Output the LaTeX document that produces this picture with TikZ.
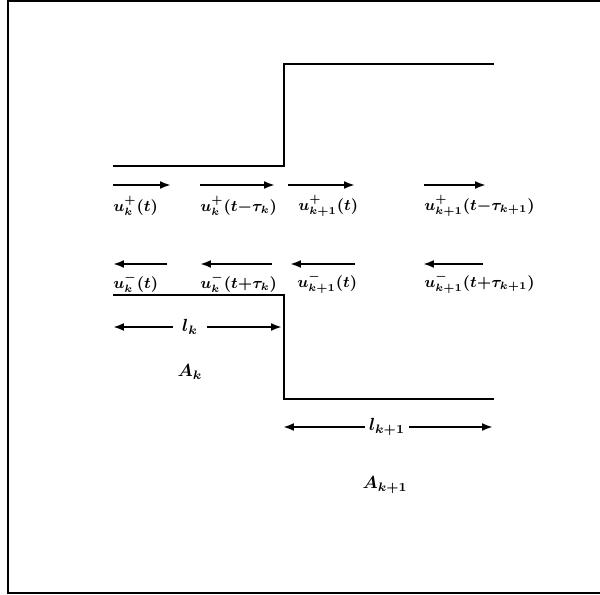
\documentclass[tikz,border=0pt]{standalone}
\usepackage{amsmath}
\usepackage{tikz}
\usetikzlibrary{arrows.meta,positioning}

\begin{document}
\begin{tikzpicture}[x=0.02cm,y=-0.02cm,
  wall/.style={line width=1.1pt},
  a/.style={-{Latex[length=2.2mm,width=1.6mm]},line width=1.1pt},
  lab/.style={anchor=west,inner sep=0pt,font=\small\boldmath}]
\useasboundingbox (0,0) rectangle (600,595);
\draw[line width=1pt] (600,1) -- (8,1) -- (8,593) -- (600,593);
% duct walls
\draw[wall] (113,166) -- (284,166) -- (284,64) -- (494,64);
\draw[wall] (113,295) -- (284,295) -- (284,399) -- (494,399);
% forward waves
\coordinate (f1s) at (113,185); \coordinate (f1e) at (171,185);
\coordinate (f2s) at (200,185); \coordinate (f2e) at (275,185);
\coordinate (f3s) at (288,185); \coordinate (f3e) at (355,185);
\coordinate (f4s) at (424,185); \coordinate (f4e) at (486,185);
\draw[a] (f1s) -- (f1e);
\draw[a] (f2s) -- (f2e);
\draw[a] (f3s) -- (f3e);
\draw[a] (f4s) -- (f4e);
\node[lab] (up1) at (113,206) {$u_k^+(t)$};
\node[lab] (up2) at (200,206) {$u_k^+(t{-}\tau_k)$};
\node[lab] (up3) at (298,206) {$u_{k+1}^+(t)$};
\node[lab] (up4) at (424,206) {$u_{k+1}^+(t{-}\tau_{k+1})$};
% backward waves
\coordinate (b1s) at (167,264); \coordinate (b1e) at (113,264);
\coordinate (b2s) at (272,264); \coordinate (b2e) at (200,264);
\coordinate (b3s) at (355,264); \coordinate (b3e) at (290,264);
\coordinate (b4s) at (483,264); \coordinate (b4e) at (423,264);
\draw[a] (b1s) -- (b1e);
\draw[a] (b2s) -- (b2e);
\draw[a] (b3s) -- (b3e);
\draw[a] (b4s) -- (b4e);
\node[lab] (um1) at (113,283) {$u_k^-(t)$};
\node[lab] (um2) at (200,283) {$u_k^-(t{+}\tau_k)$};
\node[lab] (um3) at (297,283) {$u_{k+1}^-(t)$};
\node[lab] (um4) at (424,283) {$u_{k+1}^-(t{+}\tau_{k+1})$};
% lengths and areas
\node[inner sep=0pt,font=\boldmath] (lk) at (190,327) {$l_k$};
\coordinate (lkL) at (113,327); \coordinate (lkR) at (282,327);
\draw[a] (lk.west) ++(-9,0) -- (lkL);
\draw[a] (lk.east) ++(9,0) -- (lkR);
\node[font=\boldmath] (Ak) at (190,372) {$A_k$};
\node[inner sep=0pt,font=\boldmath] (lk1) at (387,427) {$l_{k+1}$};
\coordinate (lk1L) at (283,427); \coordinate (lk1R) at (493,427);
\draw[a] (lk1.west) ++(-4,0) -- (lk1L);
\draw[a] (lk1.east) ++(4,0) -- (lk1R);
\node[font=\boldmath] (Ak1) at (385,485) {$A_{k+1}$};
\end{tikzpicture}
\end{document}
